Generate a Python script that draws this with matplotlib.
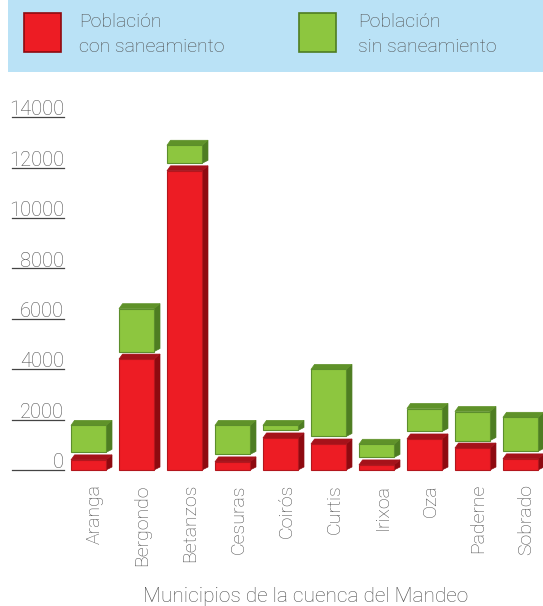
import matplotlib

matplotlib.use("Agg")
import matplotlib.pyplot as plt
from matplotlib.patches import Polygon, Rectangle
from matplotlib.transforms import blended_transform_factory

# datos
municipios = ["Aranga", "Bergondo", "Betanzos", "Cesuras", "Coirós",
              "Curtis", "Irixoa", "Oza", "Paderne", "Sobrado"]
con_saneamiento = [400, 4400, 11870, 320, 1270, 1030, 200, 1230, 870, 440]
sin_saneamiento = [1070, 1700, 715, 1150, 200, 2660, 520, 910, 1150, 1350]
y_ticks = [0, 2000, 4000, 6000, 8000, 10000, 12000, 14000]
y_tick_labels = ["0", "2000", "4000", "6000", "8000", "10000", "12000", "14000"]

RED = ("#ED1C24", "#A5121A", "#8E0A10", "#B3161D")
GREEN = ("#8DC63F", "#5F9229", "#4E7D22", "#5C8E2C")
TEXT = "#4f4f4f"
FONT = "Roboto"

GAP = 300      # hueco entre tramos
WIDTH = 0.73   # ancho cara frontal
DX = 0.125     # profundidad en x
DY = 200       # profundidad en y

plt.rcParams["font.family"] = [FONT, "DejaVu Sans"]

fig = plt.figure(figsize=(5.43, 6.06), dpi=100)
ax = fig.add_axes([64 / 543, 1 - 475 / 606, 479 / 543, 380 / 606])
ax.set_xlim(-0.51, 9.47)
ax.set_ylim(-198, 14881)
ax.axis("off")


def draw_box(ax, xc, y0, y1, colors):
    front, top, side, edge = colors
    x0, x1 = xc - WIDTH / 2, xc + WIDTH / 2
    ax.add_patch(Polygon([(x1, y0), (x1 + DX, y0 + DY * 0.6), (x1 + DX, y1 + DY), (x1, y1)],
                         closed=True, fc=side, ec=side, lw=0.5))
    ax.add_patch(Polygon([(x0, y1), (x1, y1), (x1 + DX, y1 + DY), (x0 + DX * 0.6, y1 + DY)],
                         closed=True, fc=top, ec=top, lw=0.5))
    ax.add_patch(Rectangle((x0, y0), WIDTH, y1 - y0, fc=front, ec=edge, lw=0.8))


for i, (r, g) in enumerate(zip(con_saneamiento, sin_saneamiento)):
    draw_box(ax, i, 0, r, RED)
    draw_box(ax, i, r + GAP, r + GAP + g, GREEN)

# etiquetas eje y subrayadas
ytr = blended_transform_factory(fig.transFigure, ax.transData)
for v, lab in zip(y_ticks, y_tick_labels):
    ax.plot([12 / 543, 64 / 543], [v, v], color="#444444", lw=0.9,
            transform=ytr, clip_on=False)
    ax.text(64 / 543, v - 90, lab, transform=ytr, ha="right", va="bottom",
            fontsize=14.5, color=TEXT, fontweight="light")

# etiquetas eje x
xtr = blended_transform_factory(ax.transData, fig.transFigure)
for i, name in enumerate(municipios):
    ax.text(i + 0.125, 1 - 484 / 606, name, transform=xtr, rotation=90,
            ha="center", va="top", fontsize=14, color=TEXT, fontweight="light")

fig.text(306 / 543, 1 - 597 / 606, "Municipios de la cuenca del Mandeo",
         ha="center", va="center", fontsize=15, color=TEXT, fontweight="light")

# leyenda
fig.patches.append(Rectangle((8 / 543, 1 - 72 / 606), 1 - 8 / 543, 72 / 606,
                             transform=fig.transFigure, fc="#BAE2F6", ec="none", zorder=0))
leg = [(24, 79, "con saneamiento", RED), (299, 358, "sin saneamiento", GREEN)]
for x, xt, txt, colors in leg:
    fig.patches.append(Rectangle((x / 543, 1 - 52 / 606), 37 / 543, 39 / 606,
                                 transform=fig.transFigure, fc=colors[0],
                                 ec=colors[2], lw=1.2, zorder=1))
    fig.text(xt / 543, 1 - 22 / 606, "Población", ha="left", va="center",
             fontsize=14, color=TEXT, fontweight="light")
    fig.text(xt / 543, 1 - 47 / 606, txt, ha="left", va="center",
             fontsize=14, color=TEXT, fontweight="light")

fig.savefig("out.png", dpi=100)
